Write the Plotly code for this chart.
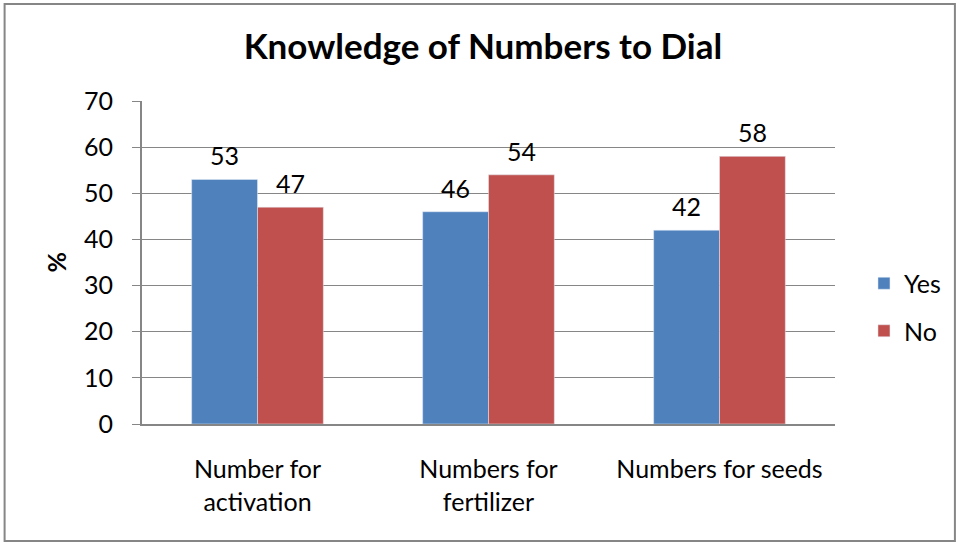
import plotly.graph_objects as go

categories = ["Number for<br>activation", "Numbers for<br>fertilizer", "Numbers for seeds"]
yes_values = [53, 46, 42]
no_values = [47, 54, 58]
y_ticks = [0, 10, 20, 30, 40, 50, 60, 70]

W, H = 962, 545
L, R, T, B = 141.5, 127, 101, 121
pw = W - L - R
ph = H - T - B

font = "Lato, 'Liberation Sans', sans-serif"
FS = 25

fig = go.Figure()
fig.add_trace(go.Bar(name="Yes", x=categories, y=yes_values, marker_color="#4F81BD",
                     legendgroup="yes"))
fig.add_trace(go.Bar(name="No", x=categories, y=no_values, marker_color="#C0504D",
                     legendgroup="no"))

def px_x(v):
    return (v - L) / pw

def px_y(v):
    return (H - B - v) / ph

annotations = [dict(text="<b>%</b>", xref="paper", yref="paper", x=px_x(55), y=px_y(262),
                    textangle=-90, showarrow=False, font=dict(size=FS, family=font),
                    xanchor="center", yanchor="middle")]
for series, shift in ((yes_values, -33), (no_values, 33)):
    for cat, val in zip(categories, series):
        annotations.append(dict(x=cat, y=val, xref="x", yref="y", text=str(val),
                                showarrow=False, xshift=shift, yshift=7,
                                xanchor="center", yanchor="bottom",
                                font=dict(size=FS, family=font, color="#000000")))

fig.update_layout(
    width=W, height=H,
    margin=dict(l=L, r=R, t=T, b=B),
    paper_bgcolor="white", plot_bgcolor="white",
    font=dict(family=font, size=FS, color="#000000"),
    barmode="group", bargap=0.43, bargroupgap=0,
    title=dict(text="<b>Knowledge of Numbers to Dial</b>", x=0.502, xanchor="center",
               y=1 - 47 / H, yanchor="middle", font=dict(size=35, family=font)),
    legend=dict(x=px_x(864), y=px_y(307), yanchor="middle", xanchor="left",
                font=dict(size=FS), tracegroupgap=12, itemwidth=30,
                bgcolor="rgba(0,0,0,0)"),
    showlegend=True,
    shapes=[dict(type="rect", xref="paper", yref="paper",
                 x0=px_x(4), x1=px_x(955), y0=px_y(541), y1=px_y(4),
                 line=dict(color="#868686", width=2), fillcolor="rgba(0,0,0,0)", layer="below")],
    annotations=annotations,
)
fig.update_xaxes(showline=True, linecolor="#868686", linewidth=2, ticks="", showgrid=False,
                 tickfont=dict(size=FS), ticklabelstandoff=22)
fig.update_yaxes(range=[0, 70], tickvals=y_ticks, showgrid=True, gridcolor="#868686", gridwidth=1,
                 showline=True, linecolor="#868686", linewidth=2, ticks="outside", ticklen=8,
                 tickcolor="#868686", tickfont=dict(size=FS), zeroline=False,
                 ticklabelstandoff=14)

fig.write_html("out.html", config={"displayModeBar": False},
               post_script="document.body.style.margin='0';document.body.style.overflow='hidden';")
